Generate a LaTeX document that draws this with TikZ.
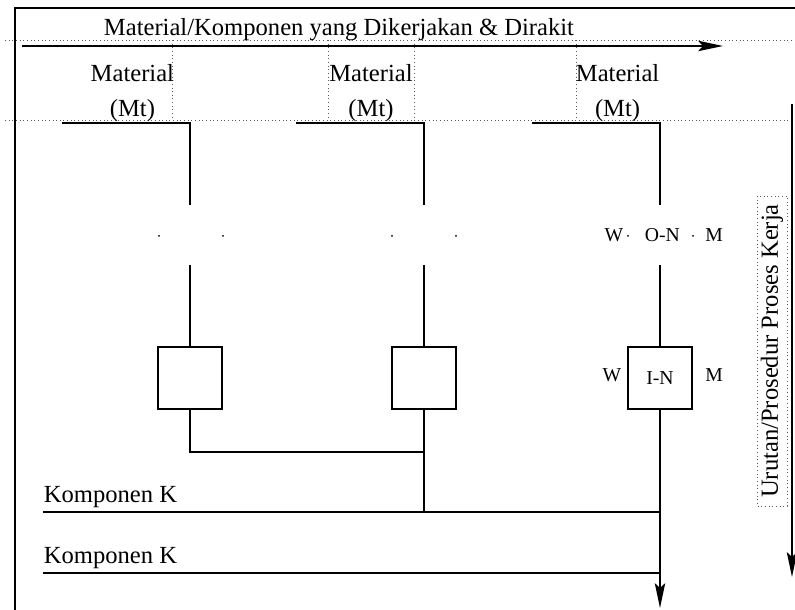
\documentclass[tikz,border=0pt]{standalone}
\usepackage{fontspec}
\setmainfont{Liberation Serif}
\usetikzlibrary{arrows.meta}

\begin{document}
\begin{tikzpicture}[line width=1.2pt]
	\useasboundingbox (0,0) rectangle (19.875,15.25);
	
	\tikzstyle{lbl}=[font=\fontsize{17.5}{21}\selectfont, inner sep=0pt]
	
	\tikzstyle{tag}=[font=\fontsize{14}{17}\selectfont, inner sep=0pt]
	
	\tikzstyle{proc}=[draw, shape=rectangle, minimum width=1.6cm, minimum height=1.55cm, font=\fontsize{14}{17}\selectfont]
	
	\tikzstyle{guide}=[dotted, line width=0.6pt, draw=gray!70!black]
	
	\tikzstyle{flow}=[-{Stealth[length=0.62cm,width=0.26cm,inset=0.12cm]}]
	
	% frame
	\coordinate(frameB) at (0.375,0);
	\coordinate(frameTL) at (0.375,15.05);
	\coordinate(frameTR) at (19.875,15.05);
	\draw[line width=1.6pt] (frameB) -- (frameTL) -- (frameTR);
	
	% header
	\node[lbl, anchor=base](title) at (8.475,14.35){Material/Komponen yang Dikerjakan \& Dirakit};
	\coordinate(flowStart) at (0.55,14.1);
	\coordinate(flowEnd) at (18.075,14.1);
	\draw[flow] (flowStart) -- (flowEnd);
	
	\draw[guide] (0.125,14.25) -- (19.875,14.25);
	\draw[guide] (0.125,12.25) -- (19.875,12.25);
	\foreach \x in {4.3,8.2,10.35,14.4}
		\draw[guide] (\x,14.25) -- (\x,12.25);
	
	\foreach \x/\n in {3.31/1, 9.275/2, 15.44/3}{
		\node[lbl, anchor=base](mat\n) at (\x,13.2){Material};
		\node[lbl, anchor=base](mt\n) at (\x,12.325){(Mt)};
	}
	
	% columns
	\foreach \n/\x/\t in {1/4.75/{}, 2/10.6/{}, 3/16.5/I-N}{
		\coordinate(barL\n) at (\x-3.2,12.18);
		\coordinate(barR\n) at (\x,12.18);
		\coordinate(gapT\n) at (\x,10.125);
		\coordinate(gapB\n) at (\x,8.625);
		\node[proc](box\n) at (\x,5.8){\t};
		\draw (barL\n) -- (barR\n) -- (gapT\n);
		\draw (gapB\n) -- (box\n);
	}
	
	\foreach \x in {3.975,5.575,9.8,11.4,15.7,17.325}
		\fill (\x,9.35) circle (0.025);
	
	\node[tag, anchor=base](wOut) at (15.35,9.2){W};
	\node[tag, anchor=base](onStep) at (16.56,9.2){O-N};
	\node[tag, anchor=base](mOut) at (17.85,9.2){M};
	\node[tag, anchor=base](wIn) at (15.3,5.7){W};
	\node[tag, anchor=base](mIn) at (17.85,5.7){M};
	
	% components
	\coordinate(join1) at (10.6,3.95);
	\coordinate(knot) at (10.6,2.45);
	\coordinate(kStart1) at (1.075,2.45);
	\coordinate(kEnd1) at (16.5,2.45);
	\coordinate(kStart2) at (1.075,0.925);
	\coordinate(kEnd2) at (16.5,0.925);
	\coordinate(down) at (16.5,0.05);
	
	\draw (box1) |- (join1);
	\draw (box2) -- (knot);
	\draw (kStart1) -- (kEnd1);
	\draw (kStart2) -- (kEnd2);
	\draw[flow] (box3) -- (down);
	
	\node[lbl, anchor=base west](komp1) at (1.075,2.675){Komponen K};
	\node[lbl, anchor=base west](komp2) at (1.075,1.15){Komponen K};
	
	% sequence
	\node[lbl, guide, rotate=90, minimum width=7.75cm, minimum height=0.75cm](urutan) at (19.3,6.475){Urutan/Prosedur Proses Kerja};
	\coordinate(seqTop) at (19.8,12.65);
	\coordinate(seqEnd) at (19.8,0.825);
	\draw[flow] (seqTop) -- (seqEnd);
	
\end{tikzpicture}
\end{document}
